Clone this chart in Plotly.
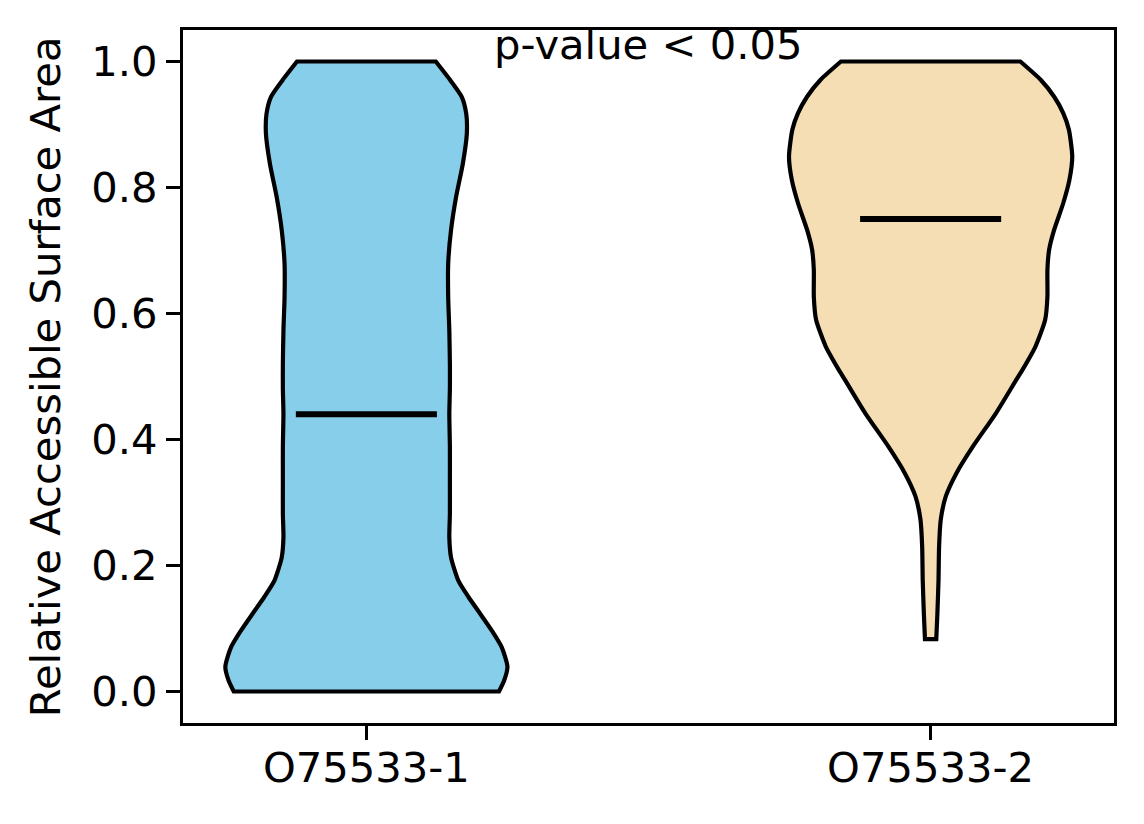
import plotly.graph_objects as go

# ---- data ----
categories = ["O75533-1", "O75533-2"]
positions = [1, 2]
colors = ["#87CEEB", "#F5DEB3"]

# violin 1 outline: y levels and half widths (data units of x axis)
v1_y = [0.0, 0.017, 0.039, 0.070, 0.097, 0.123, 0.150, 0.176, 0.213, 0.245,
        0.282, 0.335, 0.388, 0.441, 0.481, 0.520, 0.573, 0.626, 0.679, 0.732,
        0.785, 0.838, 0.885, 0.917, 0.944, 0.970, 1.0]
v1_w = [0.235, 0.244, 0.250, 0.240, 0.222, 0.202, 0.181, 0.163, 0.150, 0.147,
        0.148, 0.148, 0.148, 0.147, 0.148, 0.148, 0.147, 0.145, 0.145, 0.150,
        0.159, 0.171, 0.178, 0.177, 0.169, 0.149, 0.123]

# violin 2 outline
v2_y = [0.083, 0.124, 0.177, 0.230, 0.273, 0.310, 0.347, 0.389, 0.442, 0.495,
        0.511, 0.548, 0.590, 0.627, 0.669, 0.701, 0.733, 0.775, 0.812, 0.849,
        0.892, 0.918, 0.944, 0.971, 1.0]
v2_w = [0.010, 0.012, 0.014, 0.015, 0.018, 0.027, 0.046, 0.075, 0.116, 0.152,
        0.163, 0.186, 0.203, 0.207, 0.207, 0.210, 0.219, 0.235, 0.246, 0.251,
        0.245, 0.235, 0.219, 0.195, 0.159]

medians = [0.44, 0.75]
median_half = 0.125

y_ticks = [0.0, 0.2, 0.4, 0.6, 0.8, 1.0]
y_ticktext = ["0.0", "0.2", "0.4", "0.6", "0.8", "1.0"]
annotation_text = "p-value < 0.05"
y_title = "Relative Accessible Surface Area"

FONT = "DejaVu Sans"
FS = 41.7
LW = 3.3

fig = go.Figure()

for pos, ys, ws, col in [(positions[0], v1_y, v1_w, colors[0]),
                         (positions[1], v2_y, v2_w, colors[1])]:
    left_x = [pos - w for w in ws]
    right_x = [pos + w for w in reversed(ws)]
    left_y = list(ys)
    right_y = list(reversed(ys))
    # doubled corner points keep the flat top/bottom edges straight under spline smoothing
    xs = [left_x[0]] + left_x + [left_x[-1]] + [right_x[0]] + right_x + [right_x[-1]] + [left_x[0], left_x[0]]
    yy = [left_y[0]] + left_y + [left_y[-1]] + [right_y[0]] + right_y + [right_y[-1]] + [left_y[0], left_y[0]]
    fig.add_trace(go.Scatter(x=xs, y=yy, mode="lines", fill="toself",
                             fillcolor=col,
                             line=dict(color="black", width=4.2, shape="spline", smoothing=0.6),
                             hoverinfo="skip", showlegend=False))

for pos, med in zip(positions, medians):
    fig.add_trace(go.Scatter(x=[pos - median_half, pos + median_half], y=[med, med],
                             mode="lines", line=dict(color="black", width=6),
                             hoverinfo="skip", showlegend=False))

fig.add_annotation(x=1.5, y=1.0, xref="x", yref="y", text=annotation_text,
                   showarrow=False, xanchor="center", yanchor="bottom", yshift=-10,
                   font=dict(family=FONT, size=FS, color="black"))

fig.add_annotation(x=(46 - 183.3) / 930.7, y=0.5, xref="paper", yref="paper",
                   text=y_title, textangle=-90, showarrow=False,
                   xanchor="center", yanchor="middle",
                   font=dict(family=FONT, size=FS, color="black"))

fig.update_layout(
    width=1136, height=816,
    margin=dict(l=175, r=30, t=22, b=101),
    paper_bgcolor="white", plot_bgcolor="white",
    font=dict(family=FONT, size=FS, color="black"),
    xaxis=dict(range=[0.675, 2.325], tickvals=positions, ticktext=categories,
               ticks="outside", ticklen=14, tickwidth=LW, tickcolor="black",
               showline=True, linewidth=LW, linecolor="black", mirror=True,
               showgrid=False, zeroline=False, ticklabelstandoff=-8,
               tickfont=dict(family=FONT, size=FS, color="black")),
    yaxis=dict(range=[-0.05, 1.05], tickvals=y_ticks, ticktext=y_ticktext,
               ticks="outside", ticklen=14, tickwidth=LW, tickcolor="black",
               showline=True, linewidth=LW, linecolor="black", mirror=True,
               showgrid=False, zeroline=False,
               tickfont=dict(family=FONT, size=FS, color="black")),
)

fig.write_html("out.html")
